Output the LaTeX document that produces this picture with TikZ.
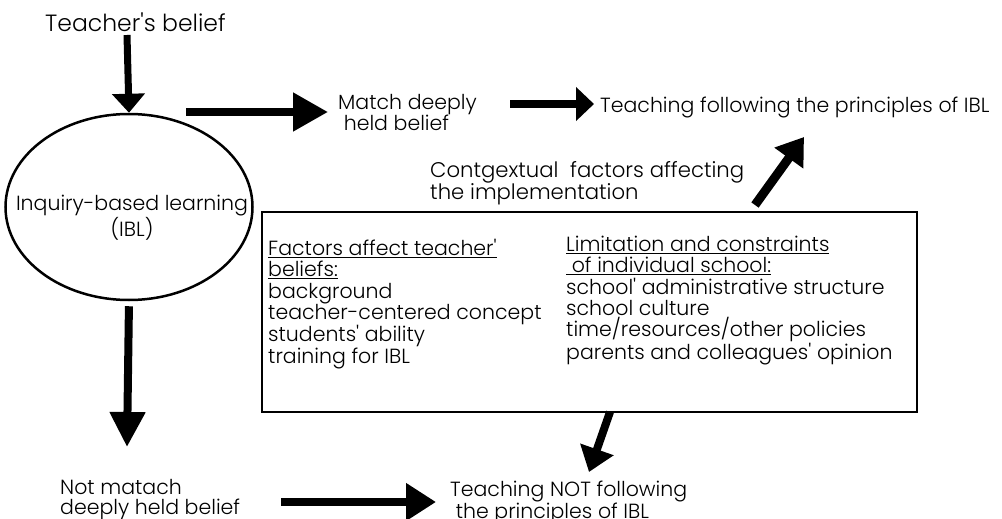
\documentclass[tikz,border=0pt]{standalone}
\usepackage{fontspec}
\setmainfont{Poppins}[Ligatures=TeXOff, UprightFont=* Light]
\usetikzlibrary{arrows.meta,shapes.geometric,positioning}

\begin{document}
\begin{tikzpicture}[x=1pt, y=-1pt, font=\fontsize{20.5}{21.3}\selectfont,
  txt/.style={anchor=north west, align=left, inner sep=0pt},
  bigarrow/.style={line width=8pt, -{Triangle[length=24pt, width=34pt]}},
  frame/.style={draw, line width=2.5pt}]
  \useasboundingbox (0,0) rectangle (1002,519);
  { 
  \node[txt, font=\fontsize{23.5}{24}\selectfont] (teacher) at (45,13) {Teacher's belief};
  \node[frame, ellipse, minimum width=247pt, minimum height=186pt] (ibl) at (129,207) {};
  \node[align=center, inner sep=0pt] (ibltxt) at (132,218) {Inquiry-based learning\\(IBL)};
  \node[txt] (match) at (338,94) {Match deeply\\ \ held belief};
  \node[txt] (follow) at (600,97) {Teaching following the principles of IBL};
  \node[txt, font=\fontsize{21.2}{21.3}\selectfont] (context) at (430,161) {Contgextual\ \ factors affecting\\the implementation};
  \node[frame, rectangle, minimum width=655pt, minimum height=200pt] (box) at (589.5,312) {};
  \node[txt] (beliefs) at (268,239) {\underline{Factors affect teacher'}\\\underline{beliefs:}\\background\\teacher-centered concept\\students' ability\\training for IBL};
  \node[txt] (limits) at (566,236) {\underline{Limitation and constraints}\\\underline{\ of individual school:}\\school' administrative structure\\school culture\\time/resources/other policies\\parents and colleagues' opinion};
  \node[txt, font=\fontsize{20.5}{20}\selectfont] (notmatch) at (60,479) {Not matach\\deeply held belief};
  \node[txt, font=\fontsize{20.5}{20}\selectfont] (notfollow) at (450,481) {Teaching NOT following\\ \ the principles of IBL};

  % free ends of the arrows
  \coordinate (t1) at (127,35);
  \coordinate (m1) at (186,112);
  \coordinate (m2) at (328,112);
  \coordinate (f1) at (510,104);
  \coordinate (f2) at (594,104);
  \coordinate (c1) at (755,205);
  \coordinate (c2) at (804,137);
  \coordinate (n1) at (127,447);
  \coordinate (b1) at (610,412);
  \coordinate (b2) at (589,472);
  \coordinate (p1) at (281,502);
  \coordinate (p2) at (436,502);

  \draw[bigarrow, line width=7pt, -{Triangle[length=19pt, width=32pt]}] (t1) -- (ibl.north);
  \draw[bigarrow, -{Triangle[length=35pt, width=37pt]}] (m1) -- (m2);
  \draw[bigarrow, -{Triangle[length=18pt, width=33pt]}] (f1) -- (f2);
  \draw[bigarrow, line width=9pt, -{Triangle[length=26pt, width=34pt]}] (c1) -- (c2);
  \draw[bigarrow, shorten <=5pt, -{Triangle[length=35pt, width=34pt]}] (ibl.south) -- (n1);
  \draw[bigarrow, -{Triangle[length=24pt, width=34pt]}] (b1) -- (b2);
  \draw[bigarrow, -{Triangle[length=30pt, width=36pt]}] (p1) -- (p2);
}
\end{tikzpicture}
\end{document}
